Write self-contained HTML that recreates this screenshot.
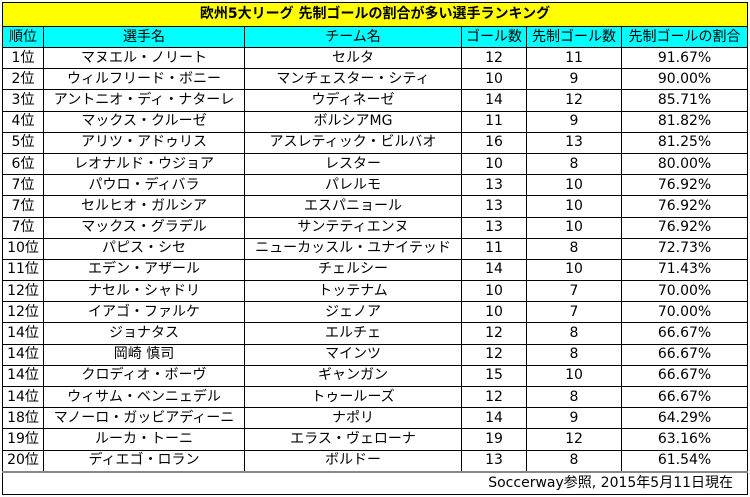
<!DOCTYPE html>
<html><head><meta charset="utf-8"><style>
body{margin:0;width:750px;height:497px;background:#fff;font-family:"DejaVu Sans","Noto Sans CJK JP",sans-serif;}
table{position:absolute;left:2px;top:2px;border-collapse:collapse;table-layout:fixed;width:745px;font-size:14px;color:#000;}
td{border:1px solid #000;text-align:center;padding:0;height:20.2px;line-height:19px;white-space:nowrap;overflow:hidden;}
tr.t td{background:#ffff00;font-weight:bold;height:23px;font-size:14px;}
tr.h td{background:#00ffff;height:20px;}
tr.f td{text-align:right;padding-right:14px;height:21px;border-top:2px solid #888;}
</style></head><body>
<table>
<colgroup><col style="width:41px"><col style="width:201px"><col style="width:217px"><col style="width:65px"><col style="width:95px"><col style="width:126px"></colgroup>
<tr class="t"><td colspan="6">欧州5大リーグ 先制ゴールの割合が多い選手ランキング</td></tr>
<tr class="h"><td>順位</td><td>選手名</td><td>チーム名</td><td>ゴール数</td><td>先制ゴール数</td><td>先制ゴールの割合</td></tr>
<tr><td>1位</td><td>マヌエル・ノリート</td><td>セルタ</td><td>12</td><td>11</td><td>91.67%</td></tr>
<tr><td>2位</td><td>ウィルフリード・ボニー</td><td>マンチェスター・シティ</td><td>10</td><td>9</td><td>90.00%</td></tr>
<tr><td>3位</td><td>アントニオ・ディ・ナターレ</td><td>ウディネーゼ</td><td>14</td><td>12</td><td>85.71%</td></tr>
<tr><td>4位</td><td>マックス・クルーゼ</td><td>ボルシアMG</td><td>11</td><td>9</td><td>81.82%</td></tr>
<tr><td>5位</td><td>アリツ・アドゥリス</td><td>アスレティック・ビルバオ</td><td>16</td><td>13</td><td>81.25%</td></tr>
<tr><td>6位</td><td>レオナルド・ウジョア</td><td>レスター</td><td>10</td><td>8</td><td>80.00%</td></tr>
<tr><td>7位</td><td>パウロ・ディバラ</td><td>パレルモ</td><td>13</td><td>10</td><td>76.92%</td></tr>
<tr><td>7位</td><td>セルヒオ・ガルシア</td><td>エスパニョール</td><td>13</td><td>10</td><td>76.92%</td></tr>
<tr><td>7位</td><td>マックス・グラデル</td><td>サンテティエンヌ</td><td>13</td><td>10</td><td>76.92%</td></tr>
<tr><td>10位</td><td>パピス・シセ</td><td>ニューカッスル・ユナイテッド</td><td>11</td><td>8</td><td>72.73%</td></tr>
<tr><td>11位</td><td>エデン・アザール</td><td>チェルシー</td><td>14</td><td>10</td><td>71.43%</td></tr>
<tr><td>12位</td><td>ナセル・シャドリ</td><td>トッテナム</td><td>10</td><td>7</td><td>70.00%</td></tr>
<tr><td>12位</td><td>イアゴ・ファルケ</td><td>ジェノア</td><td>10</td><td>7</td><td>70.00%</td></tr>
<tr><td>14位</td><td>ジョナタス</td><td>エルチェ</td><td>12</td><td>8</td><td>66.67%</td></tr>
<tr><td>14位</td><td>岡崎 慎司</td><td>マインツ</td><td>12</td><td>8</td><td>66.67%</td></tr>
<tr><td>14位</td><td>クロディオ・ボーヴ</td><td>ギャンガン</td><td>15</td><td>10</td><td>66.67%</td></tr>
<tr><td>14位</td><td>ウィサム・ベンニェデル</td><td>トゥールーズ</td><td>12</td><td>8</td><td>66.67%</td></tr>
<tr><td>18位</td><td>マノーロ・ガッビアディーニ</td><td>ナポリ</td><td>14</td><td>9</td><td>64.29%</td></tr>
<tr><td>19位</td><td>ルーカ・トーニ</td><td>エラス・ヴェローナ</td><td>19</td><td>12</td><td>63.16%</td></tr>
<tr><td>20位</td><td>ディエゴ・ロラン</td><td>ボルドー</td><td>13</td><td>8</td><td>61.54%</td></tr>
<tr class="f"><td colspan="6">Soccerway参照, 2015年5月11日現在</td></tr>
</table>
</body></html>
